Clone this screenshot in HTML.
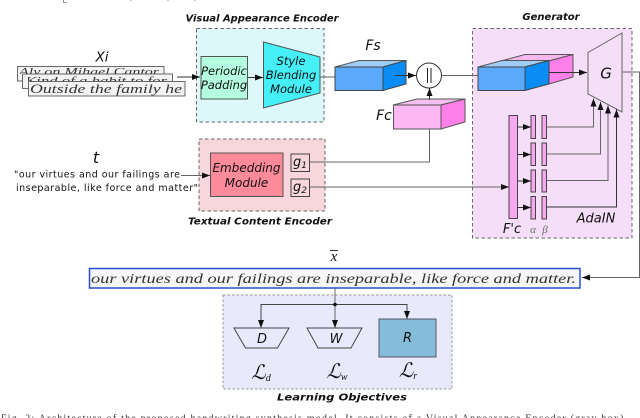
<!DOCTYPE html>
<html><head><meta charset="utf-8"><style>
html,body{margin:0;padding:0;background:#fff}
svg{display:block;filter:blur(.3px)}
text{font-family:"DejaVu Sans","Liberation Sans",sans-serif;fill:#111}
.t{font-weight:bold;font-style:italic;font-size:10px;text-anchor:middle}
.i{font-style:italic;text-anchor:middle}
.hw{font-family:"Liberation Serif",serif;font-style:italic;fill:#333}
.l{fill:none;stroke:#666;stroke-width:1}
.d{fill:none;stroke:#333;stroke-width:1}
.s{font-family:"Liberation Serif",serif;font-style:italic;text-anchor:middle}
</style></head><body>
<svg width="640" height="418" viewBox="0 0 640 418" xmlns="http://www.w3.org/2000/svg">
<defs>
<marker id="a" markerUnits="userSpaceOnUse" markerWidth="9" markerHeight="7" refX="8" refY="3" orient="auto"><path d="M0,0L8,3L0,6Z" fill="#111"/></marker>
<clipPath id="c1"><rect x="17" y="66" width="147" height="8"/></clipPath>
<clipPath id="c2"><rect x="28" y="74" width="144" height="7"/></clipPath>
</defs>

<!-- clipped line at top -->
<path d="M63.500,0V2.500H67M131,0V1M168,0V1M195,0V1" fill="none" stroke="#777" stroke-width=".8"/>

<!-- Visual Appearance Encoder -->
<text class="t" x="262" y="21.500" textLength="153" lengthAdjust="spacingAndGlyphs">Visual Appearance Encoder</text>
<rect x="196.500" y="28.500" width="127.500" height="93.500" fill="#dcf8fa" stroke="#666" stroke-dasharray="3.500 2.500"/>
<rect x="201" y="56.500" width="46.500" height="42.500" fill="#b3ffe0" stroke="#555"/>
<text class="i" font-size="11.500" x="224" y="75">Periodic</text>
<text class="i" font-size="11.500" x="224" y="89">Padding</text>
<polygon points="263.500,42 320,57 320,93 263.500,108" fill="#44f0f5" stroke="#555"/>
<text class="i" font-size="11.500" x="291" y="65">Style</text>
<text class="i" font-size="11.500" x="291" y="79">Blending</text>
<text class="i" font-size="11.500" x="291" y="93">Module</text>

<!-- Xi strips -->
<text class="i" font-size="13.500" x="102" y="61.500">Xi</text>
<rect x="17.500" y="66.500" width="146.500" height="14.500" fill="#f3f3f3" stroke="#444" stroke-width=".8"/>
<text class="hw" font-size="11" x="19" y="75" textLength="140" lengthAdjust="spacingAndGlyphs" clip-path="url(#c1)">Aly on Mihael Cantor</text>
<rect x="22.500" y="74" width="150" height="14.500" fill="#f3f3f3" stroke="#444" stroke-width=".8"/>
<text class="hw" font-size="11" x="25" y="84" textLength="142" lengthAdjust="spacingAndGlyphs" clip-path="url(#c2)">Kind of a habit to for</text>
<rect x="28.500" y="81.500" width="156.500" height="14.500" fill="#f3f3f3" stroke="#444" stroke-width=".8"/>
<text class="hw" font-size="13" x="30" y="93" textLength="152" lengthAdjust="spacingAndGlyphs">Outside the family he</text>
<line class="d" x1="177" y1="77" x2="200" y2="77" marker-end="url(#a)"/>
<line class="d" x1="247.500" y1="77.500" x2="263" y2="77.500" marker-end="url(#a)"/>
<line class="l" x1="320" y1="77" x2="335" y2="77"/>

<!-- Textual Content Encoder -->
<rect x="199" y="139" width="126" height="72" fill="#f8d7dc" stroke="#666" stroke-dasharray="3.500 2.500"/>
<text class="t" x="260" y="224.500" textLength="144" lengthAdjust="spacingAndGlyphs">Textual Content Encoder</text>
<rect x="210.500" y="153" width="72.500" height="43.500" fill="#ff8a9a" stroke="#555"/>
<text class="i" font-size="12" x="246.500" y="172">Embedding</text>
<text class="i" font-size="12" x="246.500" y="187">Module</text>
<rect x="291" y="154" width="18.500" height="17.500" fill="#f8d7dc" stroke="#444"/>
<rect x="291" y="179" width="18.500" height="17.500" fill="#f8d7dc" stroke="#444"/>
<text class="i" font-size="13" x="300" y="166">g<tspan font-size="9" dy="2">1</tspan></text>
<text class="i" font-size="13" x="300" y="191">g<tspan font-size="9" dy="2">2</tspan></text>
<text class="i" font-size="16" x="96" y="163">t</text>
<text font-size="9.500" x="14" y="177.500" textLength="166">"our virtues and our failings are</text>
<text font-size="9.500" x="16" y="191" textLength="182">inseparable, like force and matter"</text>
<line class="l" x1="181" y1="175.500" x2="210" y2="175.500" marker-end="url(#a)"/>
<path class="l" d="M310,162H429.500V129"/>

<!-- Fs -->
<text class="i" font-size="14" x="373" y="50">Fs</text>
<polygon points="335,67 359,60.500 406,60.500 383,67" fill="#a0cdf8" stroke="#555"/>
<rect x="335" y="67" width="48" height="23.500" fill="#5aa9fa" stroke="#444"/>
<polygon points="383,67 406,60.500 406,84 383,90.500" fill="#0a8cf5" stroke="#444"/>
<line class="d" x1="395" y1="75.500" x2="416" y2="75.500" marker-end="url(#a)"/>
<circle cx="429" cy="75.500" r="12.500" fill="#fff" stroke="#333"/>
<path d="M427.500,68V83M431,68V83" stroke="#222" fill="none"/>

<!-- Generator -->
<text class="t" x="551" y="20">Generator</text>
<rect x="472.500" y="28.500" width="159.500" height="209.500" fill="#f5dff8" stroke="#666" stroke-dasharray="3.500 2.500"/>
<line class="l" x1="441.500" y1="75.500" x2="478" y2="75.500"/>
<line class="l" x1="310" y1="187" x2="509" y2="187" marker-end="url(#a)"/>
<polygon points="501,61 525,54.500 573,54.500 549,61" fill="#f5b8f0" stroke="#555"/>
<polygon points="549,61 573,54.500 573,77 549,84" fill="#ff80e8" stroke="#555"/>
<polygon points="478,67 502,60.500 549,60.500 525,67" fill="#a0cdf8" stroke="#555"/>
<rect x="478" y="67" width="47" height="23.500" fill="#5aa9fa" stroke="#444"/>
<polygon points="525,67 549,60.500 549,84 525,90.500" fill="#0a8cf5" stroke="#444"/>
<line class="d" x1="549" y1="72.500" x2="587" y2="72.500" marker-end="url(#a)"/>
<polygon points="588,52.500 622,33 622,112 588,94" fill="#f5dff8" stroke="#666"/>
<text class="i" font-size="15" x="606" y="78.500">G</text>
<path class="l" d="M622,72H639.500V277.500H582" />
<path d="M582,277.500L590,274.500V280.500Z" fill="#111"/>

<!-- Fc -->
<polygon points="393,105 417,99 465,99 441,105" fill="#f5c0f0" stroke="#555"/>
<rect x="393.500" y="105" width="47.500" height="24" fill="#fcb8f2" stroke="#555"/>
<polygon points="441,105 465,99 465,122 441,129" fill="#ff80e8" stroke="#555"/>
<text class="i" font-size="14" x="384" y="120">Fc</text>
<line class="d" x1="429.500" y1="100" x2="429.500" y2="88" marker-end="url(#a)"/>

<!-- AdaIN -->
<rect x="509" y="115.500" width="8.500" height="103" fill="#f7a8ef" stroke="#444"/>
<g fill="#f7a8ef" stroke="#444">
<rect x="531" y="115.500" width="4.500" height="23"/><rect x="542" y="115.500" width="4.500" height="23"/>
<rect x="531" y="143" width="4.500" height="22.500"/><rect x="542" y="143" width="4.500" height="22.500"/>
<rect x="531" y="170" width="4.500" height="22"/><rect x="542" y="170" width="4.500" height="22"/>
<rect x="531" y="196.500" width="4.500" height="22.500"/><rect x="542" y="196.500" width="4.500" height="22.500"/>
</g>
<line class="d" x1="517.500" y1="127" x2="531" y2="127" marker-end="url(#a)"/>
<line class="d" x1="517.500" y1="154.500" x2="531" y2="154.500" marker-end="url(#a)"/>
<line class="d" x1="517.500" y1="181" x2="531" y2="181" marker-end="url(#a)"/>
<line class="d" x1="517.500" y1="207.500" x2="531" y2="207.500" marker-end="url(#a)"/>
<path class="l" d="M546.500,127H593.500V98.500" marker-end="url(#a)"/>
<path class="l" d="M546.500,154H600.500V102" marker-end="url(#a)"/>
<path class="l" d="M546.500,180.500H608V105.500" marker-end="url(#a)"/>
<path class="d" d="M546.500,207H616.500V109.500" marker-end="url(#a)"/>
<text class="i" font-size="13" x="512" y="233">F'c</text>
<text class="s" font-size="11" x="533" y="233" style="fill:#666">α</text>
<text class="s" font-size="11" x="545" y="233" style="fill:#666">β</text>
<text class="i" font-size="13" x="596" y="222.500">AdaIN</text>

<!-- Output -->
<text class="s" font-size="15" x="334" y="261">x</text>
<line x1="330" y1="250.500" x2="338" y2="250.500" stroke="#333"/>
<rect x="89.500" y="268.500" width="490.500" height="19.500" fill="#f7f7f7" stroke="#2a4fd0" stroke-width="1.500"/>
<text class="hw" font-size="14" x="91" y="283" textLength="485" lengthAdjust="spacingAndGlyphs">our virtues and our failings are inseparable, like force and matter.</text>

<!-- Learning Objectives -->
<rect x="223" y="295" width="229" height="94" fill="#e8eafb" stroke="#999" stroke-dasharray="2.500 2"/>
<line class="l" x1="335" y1="288" x2="335" y2="328" marker-end="url(#a)"/>
<path class="l" d="M261,328V304.500H407V319" style="stroke:#444"/>
<path d="M261,328L258,320H264Z M407,319L404,311H410Z" fill="#111"/>
<circle cx="335" cy="304.500" r="1.800" fill="#111"/>
<polygon points="234,328 289,328 277.500,348 245.500,348" fill="none" stroke="#444"/>
<polygon points="307,328 362,328 351,348 318,348" fill="none" stroke="#444"/>
<rect x="379" y="319" width="57" height="38" fill="#84bcd9" stroke="#556"/>
<text class="i" font-size="13" x="262" y="343">D</text>
<text class="i" font-size="13" x="336" y="343">W</text>
<text class="i" font-size="13" x="407.500" y="342">R</text>
<text class="s" font-size="20" x="261" y="379">ℒ<tspan font-size="10" dy="2">d</tspan></text>
<text class="s" font-size="20" x="337" y="378">ℒ<tspan font-size="10" dy="2">w</tspan></text>
<text class="s" font-size="20" x="408" y="377">ℒ<tspan font-size="10" dy="2">r</tspan></text>
<text class="t" x="342" y="400.500" textLength="130" lengthAdjust="spacingAndGlyphs">Learning Objectives</text>

<!-- Caption -->
<text font-size="10" x="1" y="421.500" textLength="626" style="font-family:'Liberation Serif',serif;fill:#333">Fig. 2: Architecture of the proposed handwriting synthesis model. It consists of a Visual Appearance Encoder (gray box),</text>
</svg>
</body></html>
